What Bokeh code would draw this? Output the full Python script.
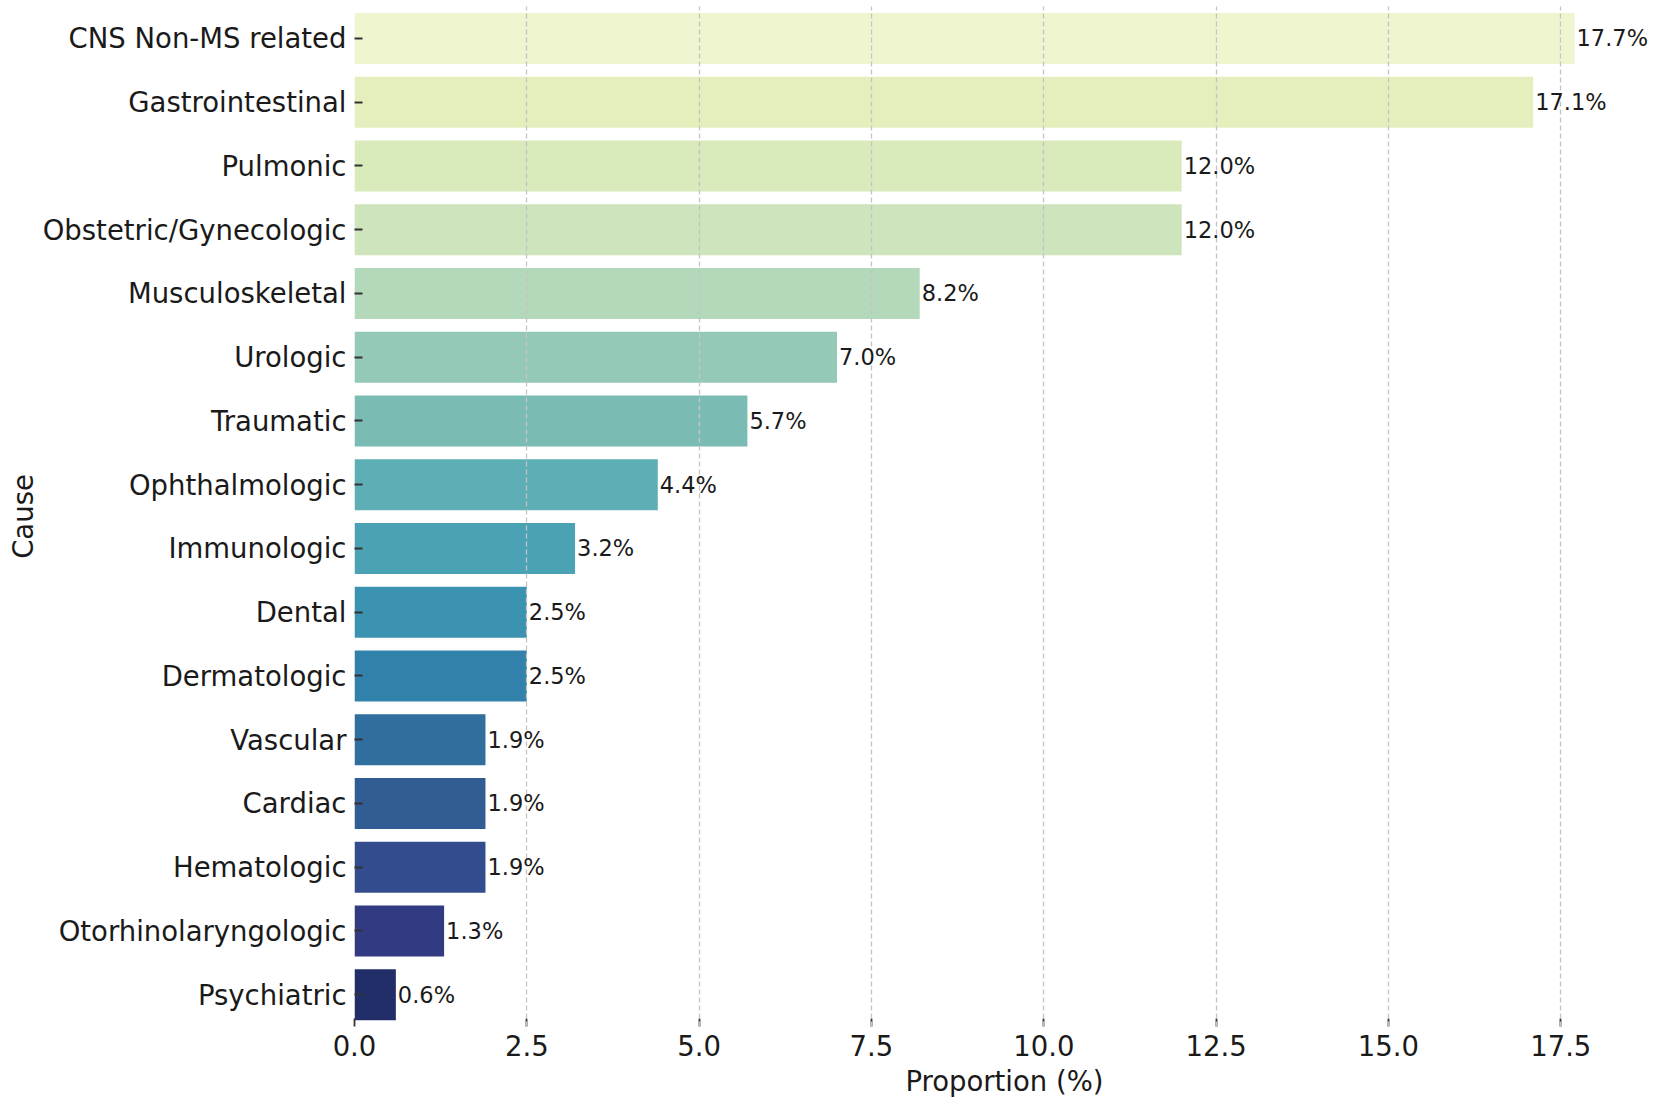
from bokeh.plotting import figure
from bokeh.models import ColumnDataSource, FactorRange, Range1d, LabelSet, FixedTicker
from bokeh.core.properties import value
from bokeh.embed import file_html
from bokeh.resources import INLINE

causes = ["CNS Non-MS related", "Gastrointestinal", "Pulmonic", "Obstetric/Gynecologic",
          "Musculoskeletal", "Urologic", "Traumatic", "Ophthalmologic", "Immunologic",
          "Dental", "Dermatologic", "Vascular", "Cardiac", "Hematologic",
          "Otorhinolaryngologic", "Psychiatric"]
proportions = [17.7, 17.1, 12.0, 12.0, 8.2, 7.0, 5.7, 4.4, 3.2, 2.5, 2.5, 1.9, 1.9, 1.9, 1.3, 0.6]
bar_colors = ["#eff5cf", "#e5efbd", "#d9eabb", "#cde4bc", "#b3d9ba", "#94c9b7", "#7abbb4",
              "#5eaeb5", "#4ba2b5", "#3c92b1", "#3281aa", "#306e9d", "#325d94", "#334c8d",
              "#323a82", "#222e67"]
x_ticks = [0.0, 2.5, 5.0, 7.5, 10.0, 12.5, 15.0, 17.5]

labels = ["%.1f%%" % v for v in proportions]
src = ColumnDataSource(dict(cause=causes, value=proportions, color=bar_colors, label=labels))

FONT = "DejaVu Sans"
TXT = "#1a1a1a"

p = figure(width=1654, height=1104, output_backend="svg", toolbar_location=None,
           y_range=FactorRange(factors=list(reversed(causes)), range_padding=0),
           x_range=Range1d(0, 18.86),
           min_border_left=354, min_border_right=0, min_border_top=6, min_border_bottom=78)

p.hbar(y="cause", right="value", left=0, height=0.8, color="color", line_color=None, source=src)

p.add_layout(LabelSet(x="value", y="cause", text="label", source=src, x_offset=2,
                      text_baseline="middle", text_align="left", text_font=value(FONT),
                      text_font_size="22.5px", text_color=TXT))

p.outline_line_color = None
p.ygrid.grid_line_color = None
p.xgrid.grid_line_color = "#c4c4c4"
p.xgrid.grid_line_dash = "5 3"
p.xgrid.grid_line_width = 1.3
p.xgrid.level = "guide"

p.xaxis.ticker = FixedTicker(ticks=x_ticks)
p.xaxis.major_label_overrides = {t: "%.1f" % t for t in x_ticks}
p.xaxis.axis_label = "Proportion (%)"
p.yaxis.axis_label = "Cause"

for ax in (p.xaxis, p.yaxis):
    ax.axis_line_color = None
    ax.major_tick_in = 8
    ax.major_tick_out = 0
    ax.major_tick_line_color = "#333333"
    ax.major_tick_line_width = 1.8
    ax.minor_tick_line_color = None
    ax.major_label_text_font = FONT
    ax.major_label_text_font_size = "27.5px"
    ax.major_label_text_color = TXT
    ax.axis_label_text_font = FONT
    ax.axis_label_text_font_size = "27.5px"
    ax.axis_label_text_font_style = "normal"
    ax.axis_label_text_color = TXT

p.xaxis.major_label_standoff = 8
p.xaxis.axis_label_standoff = 6
p.yaxis.major_label_standoff = 8
p.yaxis.axis_label_standoff = 1

open("out.html", "w").write(file_html(p, INLINE))
